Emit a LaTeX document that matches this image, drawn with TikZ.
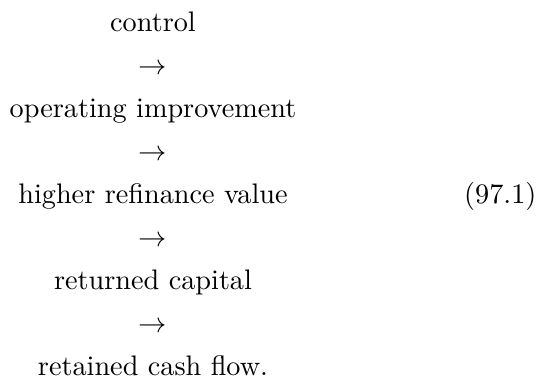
\documentclass[tikz,border=0pt]{standalone}
\usepackage{amssymb}
\usepackage{tikz}
\usetikzlibrary{positioning}

\begin{document}
\begin{tikzpicture}[x=0.354pt,y=-0.354pt,
  row/.style={anchor=base,inner sep=0pt}]
\useasboundingbox (0,0) rectangle (541,379);
\node[row] (ctrl) at (153,31) {control};
\node[row] (a1) at (153,74) {$\rightarrow$};
\node[row] (oper) at (153,117) {operating improvement};
\node[row] (a2) at (153,160) {$\rightarrow$};
\node[row] (refi) at (153,203) {higher refinance value};
\node[row] (a3) at (153,246) {$\rightarrow$};
\node[row] (ret) at (153,289) {returned capital};
\node[row] (a4) at (153,332) {$\rightarrow$};
\node[row] (cash) at (153,375) {retained cash flow.};
\node[anchor=base east,inner sep=0pt] (eqno) at (537,203) {(97.1)};
\end{tikzpicture}
\end{document}
